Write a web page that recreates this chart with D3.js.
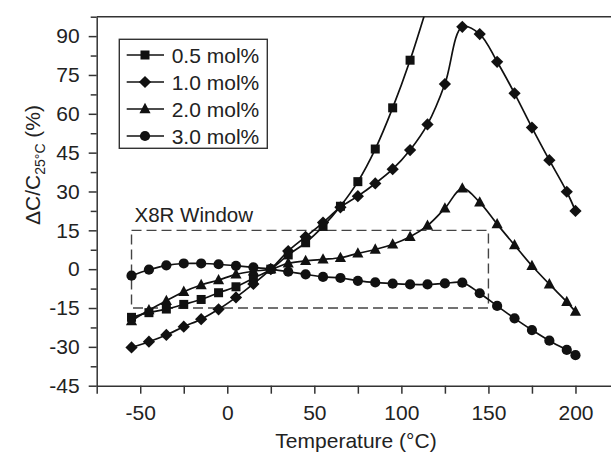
<!DOCTYPE html>
<html>
<head>
<meta charset="utf-8">
<script src="https://cdn.jsdelivr.net/npm/d3@7"></script>
<style>
  html, body { margin: 0; padding: 0; background: #fff; }
  svg { display: block; }
  text { font-family: "Liberation Sans", Arial, Helvetica, sans-serif; fill: #222; }
</style>
</head>
<body>
<svg id="chart" width="611" height="454"></svg>
<script>
// ---- data ----
const temps = [-55, -45, -35, -25, -15, -5, 5, 15, 25, 35, 45, 55, 65, 75, 85, 95, 105, 115, 125, 135, 145, 155, 165, 175, 185, 195, 200];
const seriesNames = ["0.5 mol%", "1.0 mol%", "2.0 mol%", "3.0 mol%"];
const mol05 = [-18.6, -16.8, -15.4, -13.6, -11.7, -9.1, -6.8, -3.5, 0, 5.5, 10.2, 16.5, 24.3, 33.8, 46.4, 62.3, 80.7, 102];
const mol10 = [-30.2, -28, -25.4, -22.2, -19.3, -15.5, -10.9, -5.7, 0, 7, 12.5, 18, 23.9, 28.2, 33.1, 38.6, 46, 55.9, 71.5, 93.6, 90.8, 80.1, 67.9, 54.7, 42.1, 29.9, 22.5];
const mol20 = [-20, -15.8, -12.2, -8.7, -6.1, -4.2, -2.0, -0.8, 0, 2.3, 3.2, 3.8, 4.4, 6.1, 7.6, 9.6, 12.5, 16.8, 23.5, 31.2, 25.8, 17.4, 9.3, 1.3, -5.8, -12.6, -16.4];
const mol30 = [-2.5, -0.2, 1.5, 2.2, 2.2, 1.9, 1.3, 0.7, 0, -1, -2, -3, -3.4, -4.5, -5.1, -5.6, -5.9, -5.9, -5.5, -5.2, -9.3, -14.2, -19, -23.5, -27.6, -31.2, -33.2];
const seriesValues = [mol05, mol10, mol20, mol30];
const markerTypes = ["square", "diamond", "triangle", "circle"];
const xTickValues = [-50, 0, 50, 100, 150, 200];
const yTickValues = [-45, -30, -15, 0, 15, 30, 45, 60, 75, 90];
const windowTemps = [-55, 150];
const windowRange = [-15, 15];
const windowLabel = "X8R Window";
const xDomain = [-75, 225];
const yDomain = [-45, 97.5];

// ---- layout ----
const svg = d3.select("#chart");
const x = d3.scaleLinear().domain(xDomain).range([96.7, 619]);
const y = d3.scaleLinear().domain(yDomain).range([385.7, 16.7]);
const axisColor = "#333";
const fontSize = 21;

// clip
svg.append("clipPath").attr("id", "plotclip")
  .append("rect").attr("x", x(xDomain[0])).attr("y", y(yDomain[1]))
  .attr("width", x(xDomain[1]) - x(xDomain[0])).attr("height", y(yDomain[0]) - y(yDomain[1]));

// X8R window
svg.append("rect")
  .attr("x", x(windowTemps[0])).attr("y", y(windowRange[1]))
  .attr("width", x(windowTemps[1]) - x(windowTemps[0]))
  .attr("height", y(windowRange[0]) - y(windowRange[1]))
  .attr("fill", "none").attr("stroke", "#444").attr("stroke-width", 1.4)
  .attr("stroke-dasharray", "10,5");
svg.append("text").attr("x", x(windowTemps[0]) + 3).attr("y", y(windowRange[1]) - 8)
  .attr("font-size", 20.5).text(windowLabel);

// axes
const xMinor = d3.range(xDomain[0], xDomain[1] + 0.1, 25);
const yMinor = d3.range(yDomain[0], yDomain[1] + 0.1, 7.5);

const xAxis = svg.append("g").attr("transform", `translate(0,${y(yDomain[0])})`)
  .call(d3.axisBottom(x).tickValues(xMinor).tickSize(8).tickSizeOuter(0)
    .tickFormat(d => xTickValues.includes(d) ? d : ""));
xAxis.select(".domain").attr("stroke", axisColor).attr("stroke-width", 1.5);
xAxis.selectAll(".tick line").attr("stroke", axisColor).attr("stroke-width", 1.5);
xAxis.selectAll(".tick text").attr("font-size", fontSize).attr("dy", "1.1em")
  .attr("font-family", "Liberation Sans, Arial, sans-serif").attr("fill", "#222");

const yAxis = svg.append("g").attr("transform", `translate(${x(xDomain[0])},0)`)
  .call(d3.axisLeft(y).tickValues(yMinor).tickSize(8).tickSizeOuter(0)
    .tickFormat(d => yTickValues.includes(d) ? d : ""));
yAxis.select(".domain").attr("stroke", axisColor).attr("stroke-width", 1.5);
yAxis.selectAll(".tick line").attr("stroke", axisColor).attr("stroke-width", 1.5)
  .attr("x2", d => yTickValues.includes(d) ? -8 : -6);
yAxis.selectAll(".tick text").attr("font-size", fontSize).attr("x", -17)
  .attr("font-family", "Liberation Sans, Arial, sans-serif").attr("fill", "#222");

// top frame line
svg.append("line").attr("x1", x(xDomain[0])).attr("x2", x(xDomain[1]))
  .attr("y1", y(yDomain[1])).attr("y2", y(yDomain[1]))
  .attr("stroke", axisColor).attr("stroke-width", 1.5);

// axis titles
svg.append("text").attr("x", 356).attr("y", 448).attr("text-anchor", "middle")
  .attr("font-size", fontSize).text("Temperature (°C)");
const yt = svg.append("text").attr("transform", "translate(40,165) rotate(-90)")
  .attr("text-anchor", "middle").attr("font-size", fontSize);
yt.append("tspan").text("ΔC/C");
yt.append("tspan").attr("font-size", 14).attr("dy", 5).text("25°C");
yt.append("tspan").attr("dy", -5).text(" (%)");

// markers
function drawMarker(g, type, size) {
  if (type === "square") {
    g.append("rect").attr("x", -size / 2).attr("y", -size / 2).attr("width", size).attr("height", size);
  } else if (type === "diamond") {
    const s = size * 0.68;
    g.append("path").attr("d", `M0,${-s}L${s},0L0,${s}L${-s},0Z`);
  } else if (type === "triangle") {
    const s = size * 0.62;
    g.append("path").attr("d", `M0,${-s * 1.1}L${s},${s * 0.75}L${-s},${s * 0.75}Z`);
  } else {
    g.append("circle").attr("r", size / 2 + 0.6);
  }
}

const line = d3.line().curve(d3.curveCatmullRom.alpha(0.5))
  .x(d => x(d[0])).y(d => y(d[1]));

const plot = svg.append("g").attr("clip-path", "url(#plotclip)");
seriesValues.forEach((vals, i) => {
  const pts = vals.map((v, j) => [temps[j], v]);
  plot.append("path").datum(pts).attr("d", line)
    .attr("fill", "none").attr("stroke", "#111").attr("stroke-width", 1.7);
  pts.forEach(p => {
    const g = plot.append("g").attr("transform", `translate(${x(p[0])},${y(p[1])})`).attr("fill", "#111");
    drawMarker(g, markerTypes[i], 9);
  });
});

// legend
const lg = svg.append("g");
lg.append("rect").attr("x", 119.3).attr("y", 39.3).attr("width", 148).attr("height", 109)
  .attr("fill", "#fff").attr("stroke", "#333").attr("stroke-width", 1.4);
seriesNames.forEach((name, i) => {
  const cy = 55 + i * 27;
  lg.append("line").attr("x1", 126.7).attr("x2", 164).attr("y1", cy).attr("y2", cy)
    .attr("stroke", "#111").attr("stroke-width", 1.7);
  const g = lg.append("g").attr("transform", `translate(145,${cy})`).attr("fill", "#111");
  drawMarker(g, markerTypes[i], 9);
  lg.append("text").attr("x", 171.7).attr("y", cy + 7.5).attr("font-size", fontSize).text(name);
});
</script>
</body>
</html>
